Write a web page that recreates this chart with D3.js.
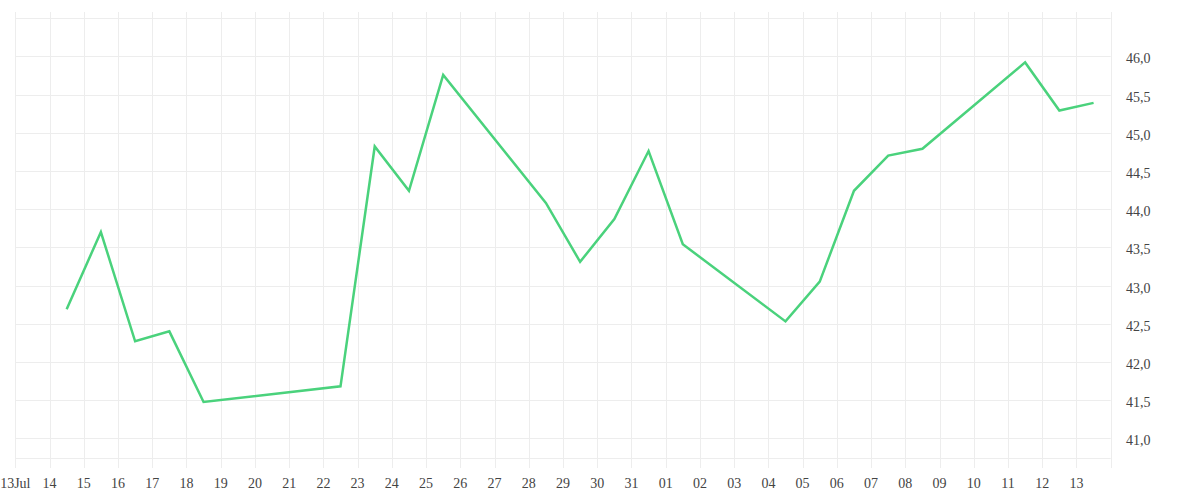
<!DOCTYPE html>
<html>
<head>
<meta charset="utf-8">
<script src="https://cdn.jsdelivr.net/npm/d3@7"></script>
<style>
  html, body { margin: 0; padding: 0; background: #fff; }
  svg { display: block; }
  .lbl { font-family: "Liberation Serif", "DejaVu Serif", serif; font-size: 14px; fill: #444; }
</style>
</head>
<body>
<svg id="chart" width="1200" height="500"></svg>
<script>
// ---- data ----
const dates = [
  "2023-07-14T12:00", "2023-07-15T12:00", "2023-07-16T12:00", "2023-07-17T12:00", "2023-07-18T12:00",
  "2023-07-22T12:00", "2023-07-23T12:00", "2023-07-24T12:00", "2023-07-25T12:00",
  "2023-07-28T12:00", "2023-07-29T12:00", "2023-07-30T12:00", "2023-07-31T12:00", "2023-08-01T12:00",
  "2023-08-04T12:00", "2023-08-05T12:00", "2023-08-06T12:00", "2023-08-07T12:00", "2023-08-08T12:00",
  "2023-08-11T12:00", "2023-08-12T12:00", "2023-08-13T12:00"
];
const values = [
  42.69, 43.70, 42.27, 42.40, 41.475,
  41.68, 44.82, 44.24, 45.755,
  44.08, 43.31, 43.87, 44.76, 43.54,
  42.53, 43.05, 44.24, 44.70, 44.79,
  45.92, 45.29, 45.39
];
const xDomain = ["2023-07-13T00:00", "2023-08-14T00:00"];
const yTicks = [41.0, 41.5, 42.0, 42.5, 43.0, 43.5, 44.0, 44.5, 45.0, 45.5, 46.0];
const yGrid = [41.0, 41.5, 42.0, 42.5, 43.0, 43.5, 44.0, 44.5, 45.0, 45.5, 46.0, 46.5];

// ---- layout ----
const plotL = 15.3, plotR = 1110.7, plotT = 12, plotB = 458.3, tickB = 468;
const parse = d3.utcParse("%Y-%m-%dT%H:%M");
const data = dates.map((d, i) => ({ date: parse(d), value: values[i] }));

const x = d3.scaleUtc().domain(xDomain.map(parse)).range([plotL, plotR]);
const y = d3.scaleLinear().domain([41, 46]).range([438.3, 56.3]);

const svg = d3.select("#chart");
const grid = "#ededed";

// vertical grid lines (daily)
const days = d3.utcDay.range(x.domain()[0], d3.utcDay.offset(x.domain()[1], 1));
svg.append("g").selectAll("line").data(days).join("line")
  .attr("x1", d => Math.round(x(d)) + 0.5).attr("x2", d => Math.round(x(d)) + 0.5)
  .attr("y1", plotT).attr("y2", tickB)
  .attr("stroke", grid).attr("stroke-width", 1);

// horizontal grid lines
svg.append("g").selectAll("line").data(yGrid).join("line")
  .attr("x1", plotL).attr("x2", plotR)
  .attr("y1", d => Math.round(y(d)) + 0.5).attr("y2", d => Math.round(y(d)) + 0.5)
  .attr("stroke", grid).attr("stroke-width", 1);
svg.append("line")
  .attr("x1", plotL).attr("x2", plotR)
  .attr("y1", Math.round(plotB) + 0.5).attr("y2", Math.round(plotB) + 0.5)
  .attr("stroke", grid);

// x labels
const xTickDays = days.filter(d => d < x.domain()[1]);
const fmtDay = d3.utcFormat("%d"), fmtFirst = d3.utcFormat("%d%b");
svg.append("g").selectAll("text").data(xTickDays).join("text")
  .attr("class", "lbl")
  .attr("x", d => x(d)).attr("y", 488)
  .attr("text-anchor", "middle")
  .text((d, i) => i === 0 ? fmtFirst(d) : fmtDay(d));

// y labels
const locale = d3.formatLocale({ decimal: ",", thousands: ".", grouping: [3], currency: ["", "€"] });
const fmtY = locale.format(".1f");
svg.append("g").selectAll("text").data(yTicks).join("text")
  .attr("class", "lbl")
  .attr("x", 1126).attr("y", d => y(d) + 7)
  .attr("text-anchor", "start")
  .text(d => fmtY(d));

// line
const line = d3.line().x(d => x(d.date)).y(d => y(d.value));
svg.append("path").datum(data)
  .attr("d", line)
  .attr("fill", "none")
  .attr("stroke", "#4ad27c")
  .attr("stroke-width", 2.5)
  .attr("stroke-linejoin", "miter");
</script>
</body>
</html>
